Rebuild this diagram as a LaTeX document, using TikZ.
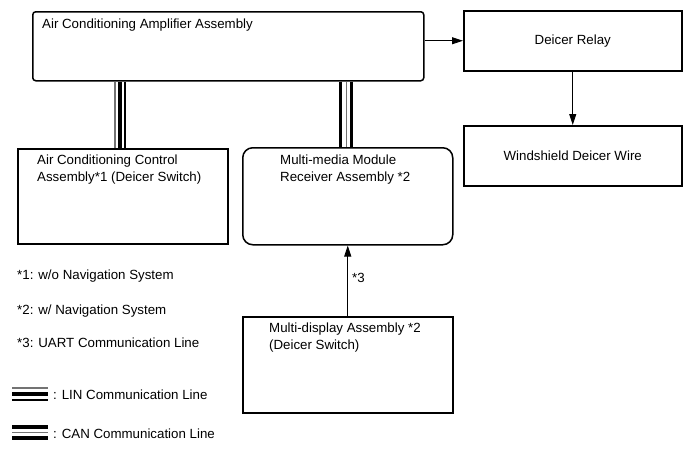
\documentclass[tikz,border=0pt]{standalone}
\usepackage{fontspec}
\setmainfont{Liberation Sans}
\usetikzlibrary{arrows.meta}
\begin{document}
\begin{tikzpicture}[x=1pt,y=-1pt,
  box/.style={draw,line width=1.5pt,inner sep=0pt,anchor=north west},
  txt/.style={anchor=base west,inner sep=0pt,font=\fontsize{13.3}{15}\selectfont},
  ctxt/.style={anchor=center,inner sep=0pt,font=\fontsize{13.3}{15}\selectfont},
  arr/.style={line width=0.9pt,-{Triangle[length=11pt,width=7pt]}},
  thinl/.style={line width=1.1pt},
  greyl/.style={line width=1.1pt,black!55},
  thickl/.style={line width=3.8pt}]
\useasboundingbox (0,0) rectangle (690,464);
% boxes
\node[box,rounded corners=3pt,minimum width=391pt,minimum height=69pt] (amp) at (32,11) {};
\node[box,minimum width=218pt,minimum height=60pt] (relay) at (463,10) {};
\node[box,minimum width=218pt,minimum height=60pt] (wire) at (463,125) {};
\node[box,minimum width=210pt,minimum height=95pt] (acc) at (17,148) {};
\node[box,rounded corners=10pt,minimum width=210pt,minimum height=97pt] (mmr) at (242,147) {};
\node[box,minimum width=210pt,minimum height=96pt] (mda) at (242,316) {};
% texts
\node[txt] (ampt) at (42,28.5) {Air Conditioning Amplifier Assembly};
\node[ctxt] (relayt) at (relay.center) {Deicer Relay};
\node[ctxt] (wiret) at (wire.center) {Windshield Deicer Wire};
\node[txt] (acct1) at (37,164.5) {Air Conditioning Control};
\node[txt] (acct2) at (37,181) {Assembly*1 (Deicer Switch)};
\node[txt] (mmrt1) at (280,164.5) {Multi-media Module};
\node[txt] (mmrt2) at (280,181) {Receiver Assembly *2};
\node[txt] (mdat1) at (269,332.5) {Multi-display Assembly *2};
\node[txt] (mdat2) at (269,349) {(Deicer Switch)};
% arrows
\draw[arr] (amp.east |- relay.west) -- (relay.west);
\draw[arr] (relay.south) -- (wire.north);
\draw[arr] (mda.north) -- (mmr.south);
\node[txt] (l3) at (352,282) {*3};
% LIN bus
\coordinate (lin) at (120,0);
\draw[greyl] ([xshift=-5pt]lin |- amp.south) -- ([xshift=-5pt]lin |- acc.north);
\draw[thickl] (lin |- amp.south) -- (lin |- acc.north);
\draw[thinl] ([xshift=5pt]lin |- amp.south) -- ([xshift=5pt]lin |- acc.north);
% CAN bus
\coordinate (can) at (346,0);
\draw[thickl] ([xshift=-5.5pt]can |- amp.south) -- ([xshift=-5.5pt]can |- mmr.north);
\draw[greyl] ([xshift=0.5pt]can |- amp.south) -- ([xshift=0.5pt]can |- mmr.north);
\draw[thickl] ([xshift=5.5pt]can |- amp.south) -- ([xshift=5.5pt]can |- mmr.north);
% notes
\node[txt] (n1) at (17,279.5) {*1: w/o Navigation System};
\node[txt] (n2) at (17,314.5) {*2: w/ Navigation System};
\node[txt] (n3) at (17,347.5) {*3: UART Communication Line};
% legend
\coordinate (la) at (12,394);
\coordinate (lb) at (48,394);
\draw[thinl] ([yshift=-6pt]la) -- ([yshift=-6pt]lb);
\draw[thickl] (la) -- (lb);
\draw[greyl] ([yshift=6pt]la) -- ([yshift=6pt]lb);
\node[txt] (lint) at (53,399.5) {: LIN Communication Line};
\coordinate (ca) at (12,432.5);
\coordinate (cb) at (48,432.5);
\draw[thickl] ([yshift=-5.5pt]ca) -- ([yshift=-5.5pt]cb);
\draw[greyl] (ca) -- (cb);
\draw[thickl] ([yshift=5.5pt]ca) -- ([yshift=5.5pt]cb);
\node[txt] (cant) at (53,438.5) {: CAN Communication Line};
\end{tikzpicture}
\end{document}
